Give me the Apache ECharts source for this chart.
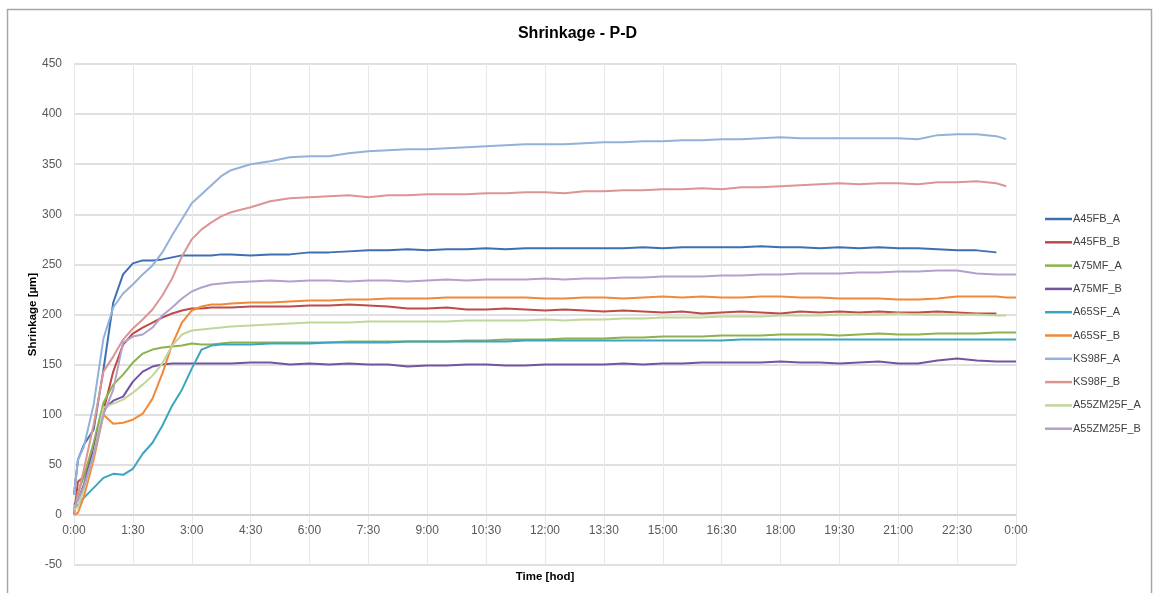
<!DOCTYPE html>
<html>
<head>
<meta charset="utf-8">
<title>Shrinkage - P-D</title>
<script src="https://cdn.jsdelivr.net/npm/echarts@6/dist/echarts.min.js"></script>
<style>
  html, body { margin: 0; padding: 0; background: #fff; }
  #chart { width: 1155px; height: 593px; }
</style>
</head>
<body>
<div id="chart"></div>
<script>
// time in hours since start
var hours = [0, 0.1, 0.25, 0.5, 0.75, 1, 1.25, 1.5, 1.75, 2, 2.25, 2.5, 2.75, 3, 3.25, 3.5, 3.75,
  4, 4.5, 5, 5.5, 6, 6.5, 7, 7.5, 8, 8.5, 9, 9.5, 10, 10.5, 11, 11.5, 12, 12.5, 13, 13.5, 14, 14.5,
  15, 15.5, 16, 16.5, 17, 17.5, 18, 18.5, 19, 19.5, 20, 20.5, 21, 21.5, 22, 22.5, 23, 23.5, 23.75, 24];

var names = ['A45FB_A', 'A45FB_B', 'A75MF_A', 'A75MF_B', 'A65SF_A', 'A65SF_B', 'KS98F_A', 'KS98F_B', 'A55ZM25F_A', 'A55ZM25F_B'];
var colors = ['#3F6FB3', '#BE4B48', '#8CB24C', '#7454A0', '#3AA5BF', '#F08A3A', '#93B1D9', '#DB9593', '#C0D69A', '#B3A0CB'];

var a45fbA = [20, 55, 70, 85, 145, 212, 240, 251, 254, 254, 255, 257, 259, 259, 259, 259, 260,
  260, 259, 260, 260, 262, 262, 263, 264, 264, 265, 264, 265, 265, 266, 265, 266, 266, 266, 266, 266, 266, 267,
  266, 267, 267, 267, 267, 268, 267, 267, 266, 267, 266, 267, 266, 266, 265, 264, 264, 262, null, null];
var a45fbB = [0, 33, 38, 64, 104, 143, 170, 181, 187, 192, 197, 201, 204, 206, 206, 207, 207,
  207, 208, 208, 208, 209, 209, 210, 209, 208, 206, 206, 207, 205, 205, 206, 205, 204, 205, 204, 203, 204, 203,
  202, 203, 201, 202, 203, 202, 201, 203, 202, 203, 202, 203, 202, 202, 203, 202, 201, 201, null, null];
var a75mfA = [5, 22, 38, 72, 112, 130, 140, 152, 161, 165, 167, 168, 169, 171, 170, 170, 171,
  172, 172, 172, 172, 172, 172, 173, 173, 173, 173, 173, 173, 174, 174, 175, 175, 175, 176, 176, 176, 177, 177,
  178, 178, 178, 179, 179, 179, 180, 180, 180, 179, 180, 181, 180, 180, 181, 181, 181, 182, 182, 182];
var a75mfB = [10, 15, 30, 65, 105, 114, 118, 133, 143, 148, 150, 151, 151, 151, 151, 151, 151,
  151, 152, 152, 150, 151, 150, 151, 150, 150, 148, 149, 149, 150, 150, 149, 149, 150, 150, 150, 150, 151, 150,
  151, 151, 152, 152, 152, 152, 153, 152, 152, 151, 152, 153, 151, 151, 154, 156, 154, 153, 153, 153];
var a65sfA = [5, 10, 17, 27, 37, 41, 40, 46, 61, 72, 89, 109, 125, 146, 165, 169, 170,
  170, 170, 171, 171, 171, 172, 172, 172, 172, 173, 173, 173, 173, 173, 173, 174, 174, 174, 174, 174, 174, 174,
  174, 174, 174, 174, 175, 175, 175, 175, 175, 175, 175, 175, 175, 175, 175, 175, 175, 175, 175, 175];
var a65sfB = [0, 2, 18, 55, 100, 91, 92, 95, 101, 116, 141, 170, 192, 204, 208, 210, 210,
  211, 212, 212, 213, 214, 214, 215, 215, 216, 216, 216, 217, 217, 217, 217, 217, 216, 216, 217, 217, 216, 217,
  218, 217, 218, 217, 217, 218, 218, 217, 217, 216, 216, 216, 215, 215, 216, 218, 218, 218, 217, 217];
var ks98fA = [20, 55, 68, 110, 176, 207, 221, 230, 240, 249, 262, 279, 295, 311, 320, 329, 338,
  344, 350, 353, 357, 358, 358, 361, 363, 364, 365, 365, 366, 367, 368, 369, 370, 370, 370, 371, 372, 372, 373,
  373, 374, 374, 375, 375, 376, 377, 376, 376, 376, 376, 376, 376, 375, 379, 380, 380, 378, 375, null];
var ks98fB = [0, 20, 45, 90, 143, 158, 175, 186, 195, 205, 219, 236, 258, 275, 285, 292, 298,
  302, 307, 313, 316, 317, 318, 319, 317, 319, 319, 320, 320, 320, 321, 321, 322, 322, 321, 323, 323, 324, 324,
  325, 325, 326, 325, 327, 327, 328, 329, 330, 331, 330, 331, 331, 330, 332, 332, 333, 331, 328, null];
var a55zm25fA = [5, 8, 25, 60, 107, 111, 115, 122, 130, 139, 151, 169, 180, 184, 185, 186, 187,
  188, 189, 190, 191, 192, 192, 192, 193, 193, 193, 193, 193, 194, 194, 194, 194, 195, 194, 195, 195, 196, 196,
  197, 197, 197, 198, 198, 198, 199, 199, 199, 200, 200, 200, 201, 200, 200, 200, 200, 199, 199, null];
var a55zm25fB = [8, 15, 28, 60, 100, 125, 172, 178, 180, 187, 199, 207, 216, 223, 227, 230, 231,
  232, 233, 234, 233, 234, 234, 233, 234, 234, 233, 234, 235, 234, 235, 235, 235, 236, 235, 236, 236, 237, 237,
  238, 238, 238, 239, 239, 240, 240, 241, 241, 241, 242, 242, 243, 243, 244, 244, 241, 240, 240, 240];

var seriesValues = [a45fbA, a45fbB, a75mfA, a75mfB, a65sfA, a65sfB, ks98fA, ks98fB, a55zm25fA, a55zm25fB];

function hourLabel(h) {
  var m = Math.round(h * 60) % 1440;
  var mm = m % 60;
  return Math.floor(m / 60) + ':' + (mm < 10 ? '0' : '') + mm;
}

var chart = echarts.init(document.getElementById('chart'));
var font = 'Liberation Sans, Arial, sans-serif';

var option = {
  animation: false,
  backgroundColor: '#fff',
  color: colors,
  title: {
    text: 'Shrinkage - P-D',
    left: 'center',
    top: 26,
    padding: 0,
    textStyle: { fontFamily: font, fontSize: 16, fontWeight: 'bold', color: '#000' }
  },
  legend: {
    orient: 'vertical',
    left: 1045,
    top: 212,
    padding: 0,
    icon: 'rect',
    itemWidth: 27,
    itemHeight: 2.5,
    itemGap: 9.3,
    data: names,
    textStyle: { fontFamily: font, fontSize: 11, lineHeight: 14, color: '#404040', padding: [0, 0, 0, -4] }
  },
  graphic: [{
    type: 'rect',
    shape: { x: 7.5, y: 9.5, width: 1144, height: 620 },
    style: { fill: null, stroke: '#A6A6A6', lineWidth: 1.5 },
    silent: true
  }],
  grid: { left: 74, right: 139, top: 64, bottom: 28, outerBoundsMode: 'none' },
  xAxis: {
    type: 'value',
    min: 0,
    max: 24,
    interval: 1.5,
    offset: -50.1,
    name: 'Time [hod]',
    nameLocation: 'middle',
    nameGap: 56,
    nameMoveOverlap: false,
    nameTextStyle: { fontFamily: font, fontSize: 11.5, fontWeight: 'bold', color: '#000' },
    axisLine: { onZero: false, lineStyle: { color: '#D0D0D0', width: 1.5 } },
    axisTick: { show: false },
    axisLabel: { formatter: hourLabel, fontFamily: font, fontSize: 12, color: '#595959', margin: 10 },
    splitLine: { show: true, lineStyle: { color: '#E8E8E8', width: 1 } }
  },
  yAxis: {
    type: 'value',
    min: -50,
    max: 450,
    interval: 50,
    name: 'Shrinkage [µm]',
    nameLocation: 'middle',
    nameGap: 35,
    nameMoveOverlap: false,
    nameTextStyle: { fontFamily: font, fontSize: 11.5, fontWeight: 'bold', color: '#000' },
    axisLine: { show: false, onZero: false },
    axisTick: { show: false },
    axisLabel: { fontFamily: font, fontSize: 12, color: '#595959', margin: 12 },
    splitLine: { lineStyle: { color: '#D6D6D6', width: 1.5 } }
  },
  series: names.map(function (name, k) {
    return {
      name: name,
      type: 'line',
      symbol: 'none',
      lineStyle: { width: 2 },
      data: hours.map(function (h, i) { return [h, seriesValues[k][i]]; })
    };
  })
};

chart.setOption(option);
</script>
</body>
</html>
